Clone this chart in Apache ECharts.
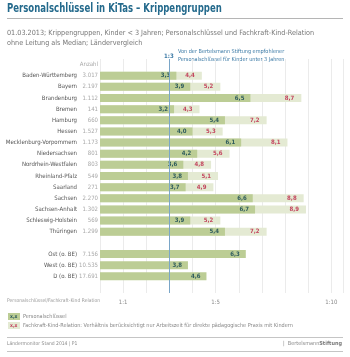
<!DOCTYPE html>
<html>
<head>
<meta charset="utf-8">
<script src="https://cdn.jsdelivr.net/npm/echarts@6/dist/echarts.min.js"></script>
<style>
  html, body { margin: 0; padding: 0; background: #fff; }
  #chart { width: 350px; height: 357px; }
</style>
</head>
<body>
<div id="chart"></div>
<script>
// Länder (ohne Berlin) und Gesamtwerte
const states = ['Baden-Württemberg', 'Bayern', 'Brandenburg', 'Bremen', 'Hamburg', 'Hessen',
  'Mecklenburg-Vorpommern', 'Niedersachsen', 'Nordrhein-Westfalen', 'Rheinland-Pfalz',
  'Saarland', 'Sachsen', 'Sachsen-Anhalt', 'Schleswig-Holstein', 'Thüringen']
const stateCounts = ['3.017', '2.197', '1.112', '141', '660', '1.527', '1.173', '801', '803', '549',
  '271', '2.270', '1.302', '569', '1.299']
const statePS = [3.3, 3.9, 6.5, 3.2, 5.4, 4.0, 6.1, 4.2, 3.6, 3.8, 3.7, 6.6, 6.7, 3.9, 5.4]
const stateFKR = [4.4, 5.2, 8.7, 4.3, 7.2, 5.3, 8.1, 5.6, 4.8, 5.1, 4.9, 8.8, 8.9, 5.2, 7.2]

const totals = ['Ost (o. BE)', 'West (o. BE)', 'D (o. BE)']
const totalCounts = ['7.156', '10.535', '17.691']
const totalPS = [6.3, 3.8, 4.6]

const xTicks = { 1: '1:1', 5: '1:5', 10: '1:10' }
const recommended = 3

// Kategorien: Kopfzeile, Länder, Leerzeile, Gesamt, Leerzeile
const cats = [''].concat(states, [''], totals, [''])
const counts = ['Anzahl'].concat(stateCounts, [''], totalCounts, [''])
const psData = [null].concat(statePS, [null], totalPS, [null])
const fkrData = [null].concat(stateFKR, [null], [null, null, null], [null])

const fmt = v => v.toFixed(1).replace('.', ',')
const FONT = '"DejaVu Sans Condensed", Roboto, sans-serif'

const chart = echarts.init(document.getElementById('chart'))
chart.setOption({
  animation: false,
  textStyle: { fontFamily: FONT },
  grid: { left: 100, right: 7, top: 59, bottom: 64, containLabel: false },
  xAxis: {
    type: 'value', min: 0, max: 10.5, interval: 1,
    axisLine: { show: false }, axisTick: { show: false },
    splitLine: { lineStyle: { color: '#ebebeb', width: 1 } },
    axisLabel: {
      fontSize: 6, color: '#8a8a8a', margin: 6, fontFamily: FONT,
      formatter: v => xTicks[v] || ''
    }
  },
  yAxis: {
    type: 'category', data: cats, inverse: true,
    axisLine: { show: false }, axisTick: { show: false },
    axisLabel: {
      margin: 2, interval: 0,
      formatter: (v, i) => '{n|' + v + '}{c|' + counts[i] + '}',
      rich: {
        n: { fontSize: 6, color: '#555', fontFamily: FONT },
        c: { fontSize: 6, color: '#a8a8a8', width: 21, align: 'right', fontFamily: FONT }
      }
    }
  },
  series: [
    {
      name: 'Fachkraft-Kind-Relation', type: 'bar', data: fkrData,
      barWidth: 8, barGap: '-100%',
      itemStyle: { color: '#e4ead3' },
      label: {
        show: true, position: 'insideRight', offset: [-2, 0],
        fontSize: 6, fontWeight: 'bold', color: '#c3455e', fontFamily: FONT,
        formatter: p => fmt(p.value)
      }
    },
    {
      name: 'Personalschlüssel', type: 'bar', data: psData,
      barWidth: 8, barGap: '-100%', z: 3,
      itemStyle: { color: '#bccd95' },
      label: {
        show: true, position: 'insideRight', offset: [-1, 0],
        fontSize: 6, fontWeight: 'bold', color: '#2e5b5c', fontFamily: FONT,
        formatter: p => fmt(p.value)
      },
      markLine: {
        silent: true, symbol: 'none', label: { show: false },
        lineStyle: { color: '#7aa6c8', type: 'solid', width: 1 },
        data: [{ xAxis: recommended }]
      }
    }
  ],
  graphic: [
    { type: 'text', x: 7, y: 2, scaleX: 0.76, style: { text: 'Personalschlüssel in KiTas – Krippengruppen', fontFamily: FONT, fontSize: 12.5, fontWeight: 'bold', fill: '#246a8c' } },
    { type: 'rect', left: 7, top: 18, shape: { width: 336, height: 1 }, style: { fill: '#b5b5b5' } },
    { type: 'text', left: 7, top: 28, style: { text: '01.03.2013; Krippengruppen, Kinder < 3 Jahren; Personalschlüssel und Fachkraft-Kind-Relation\nohne Leitung als Median; Ländervergleich', fontFamily: FONT, fontSize: 7.2, lineHeight: 10, fill: '#777' } },
    { type: 'text', left: 164, top: 53, style: { text: '1:3', fontFamily: FONT, fontSize: 6, fontWeight: 'bold', fill: '#3c7aa6' } },
    { type: 'text', left: 178, top: 48, style: { text: 'Von der Bertelsmann Stiftung empfohlener\nPersonalschlüssel für Kinder unter 3 Jahren', fontFamily: FONT, fontSize: 5.5, lineHeight: 7.5, fill: '#3c7aa6' } },
    { type: 'text', left: 7, top: 298, style: { text: 'Personalschlüssel/Fachkraft-Kind Relation', fontFamily: FONT, fontSize: 5, fill: '#9a9a9a' } },
    { type: 'rect', left: 8, top: 313, shape: { width: 12, height: 7 }, style: { fill: '#bccd95' } },
    { type: 'text', left: 10, top: 314, style: { text: 'x,x', fontFamily: FONT, fontSize: 5, fontWeight: 'bold', fill: '#2e5b5c' } },
    { type: 'text', left: 23, top: 313.5, style: { text: 'Personalschlüssel', fontFamily: FONT, fontSize: 5.5, fill: '#888' } },
    { type: 'rect', left: 8, top: 322, shape: { width: 12, height: 7 }, style: { fill: '#e4ead3' } },
    { type: 'text', left: 10, top: 323, style: { text: 'x,x', fontFamily: FONT, fontSize: 5, fontWeight: 'bold', fill: '#c3455e' } },
    { type: 'text', left: 23, top: 322.5, style: { text: 'Fachkraft-Kind-Relation: Verhältnis berücksichtigt nur Arbeitszeit für direkte pädagogische Praxis mit Kindern', fontFamily: FONT, fontSize: 5.5, fill: '#888' } },
    { type: 'rect', left: 7, top: 337, shape: { width: 336, height: 1 }, style: { fill: '#c5c5c5' } },
    { type: 'text', left: 7, top: 341, style: { text: 'Ländermonitor Stand 2014 | P1', fontFamily: FONT, fontSize: 5, fill: '#8a8a8a' } },
    { type: 'text', right: 8, top: 341, style: {
      text: '{a||  Bertelsmann}{b|Stiftung}',
      rich: {
        a: { fontFamily: FONT, fontSize: 5.5, fill: '#8a8a8a' },
        b: { fontFamily: FONT, fontSize: 5.5, fontWeight: 'bold', fill: '#7a7a7a' }
      }
    } },
    { type: 'rect', left: 7, top: 351, shape: { width: 336, height: 1 }, style: { fill: '#c5c5c5' } }
  ]
})
</script>
</body>
</html>
